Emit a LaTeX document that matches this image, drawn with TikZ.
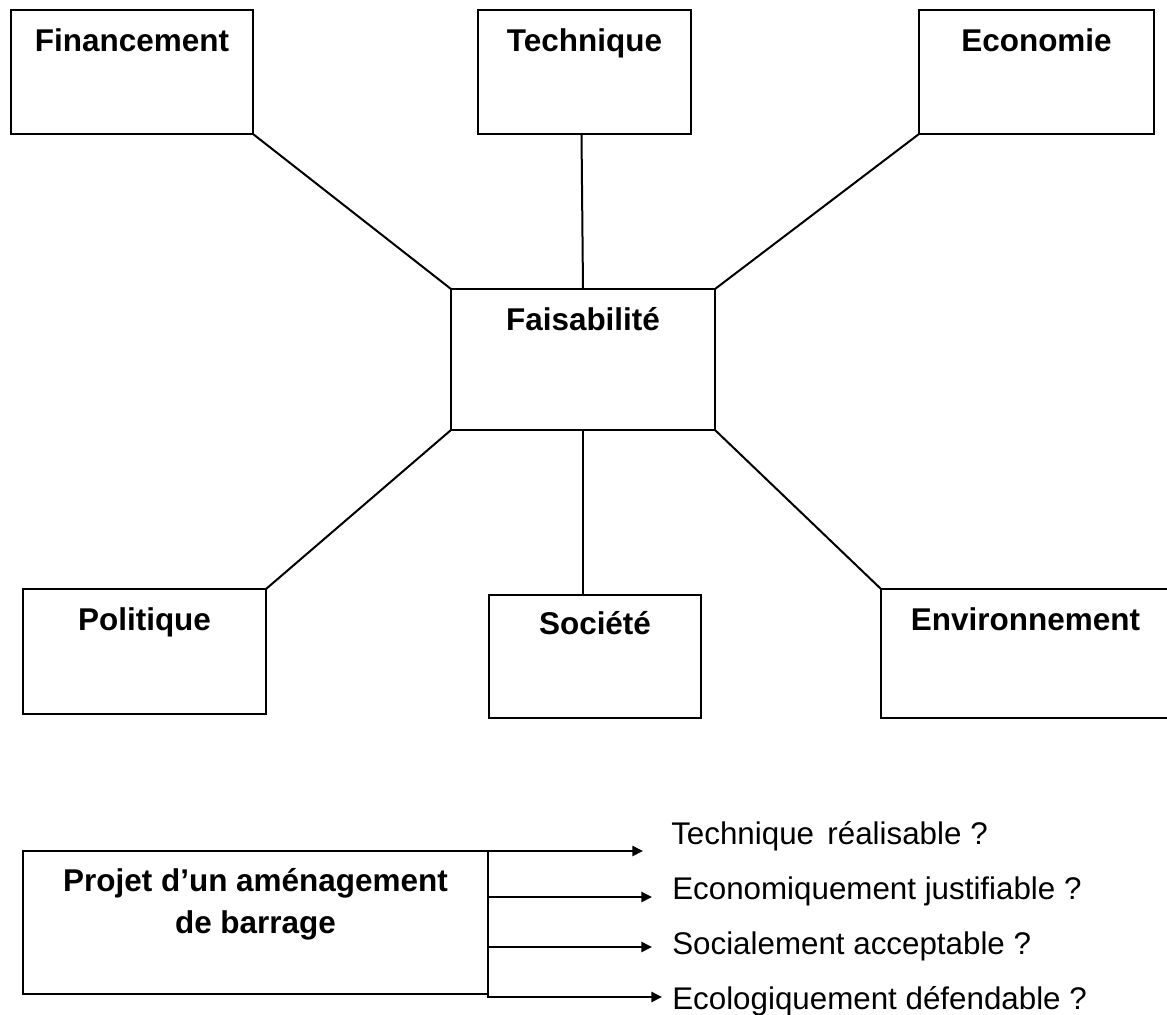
\documentclass[tikz,border=0pt]{standalone}
\usepackage{fontspec}
\setmainfont{Liberation Sans}
\usetikzlibrary{arrows.meta}
\begin{document}
\begin{tikzpicture}[x=0.75pt,y=-0.75pt,
  box/.style={draw=black, line width=1.9pt, inner sep=0pt, outer sep=0pt, fill=white},
  boldtext/.style={inner sep=0pt, font=\fontsize{23.6}{31.5}\selectfont\bfseries},
  boxlabel/.style={boldtext, anchor=base, yshift=-41*0.75pt},
  link/.style={line width=1.5pt, draw=black},
  trunk/.style={line width=1.9pt, draw=black},
  arr/.style={line width=1.9pt, draw=black, -{Triangle[length=8pt,width=7.5pt]}},
  question/.style={anchor=base west, inner sep=0pt,
    font=\fontsize{23.5}{30}\selectfont}]
\useasboundingbox (0,0) rectangle (1167,1014);
\fill[white] (0,0) rectangle (1167,1014);

% top row
\node[box, minimum width=242*0.75pt, minimum height=124*0.75pt,
  label={[boxlabel]north:Financement}] (fin) at (132,72) {};
\node[box, minimum width=213*0.75pt, minimum height=124*0.75pt,
  label={[boxlabel]north:Technique}] (tec) at (584.5,72) {};
\node[box, minimum width=235*0.75pt, minimum height=124*0.75pt,
  label={[boxlabel]north:Economie}] (eco) at (1036.5,72) {};

% centre
\node[box, minimum width=264*0.75pt, minimum height=141*0.75pt,
  label={[boxlabel]north:Faisabilité}] (fai) at (583,359.5) {};

% bottom row
\node[box, minimum width=243*0.75pt, minimum height=125*0.75pt,
  label={[boxlabel]north:Politique}] (pol) at (144.5,651.5) {};
\node[box, minimum width=212*0.75pt, minimum height=123*0.75pt,
  label={[boxlabel, yshift=1.5pt]north:Société}] (soc) at (595,656.5) {};
\node[box, minimum width=289*0.75pt, minimum height=129*0.75pt,
  label={[boxlabel]north:Environnement}] (env) at (1025.5,653.5) {};

% connectors
\draw[link] (fin.south east) -- (fai.north west);
\draw[link] ([xshift=-3*0.75pt]tec.south) -- (fai.north);
\draw[link] (eco.south west) -- (fai.north east);
\draw[link] (fai.south west) -- (pol.north east);
\draw[link] (fai.south) -- (fai.south |- soc.north);
\draw[link] (fai.south east) -- (env.north west);

% project box
\node[box, minimum width=465*0.75pt, minimum height=143*0.75pt,
  label={[boldtext, anchor=north, yshift=-17*0.75pt, align=center]north:Projet d’un aménagement\\de barrage}] (pro) at (255.5,922.5) {};

% questions
\node[question] (q1) at (671,844) {Technique\hspace{0.15em} réalisable ?};
\node[question] (q2) at (672,899) {Economiquement justifiable ?};
\node[question] (q3) at (672,954) {Socialement acceptable ?};
\node[question] (q4) at (672,1009) {Ecologiquement défendable ?};

\coordinate (e1) at (643,851);
\coordinate (e2) at (652,897);
\coordinate (e3) at (652,947);
\coordinate (e4) at (662,997);

\draw[trunk] (pro.north east) -- (pro.north east |- e4);
\draw[arr] ([xshift=-10*0.75pt]pro.north east) -- (e1);
\draw[arr] (pro.north east |- e2) -- (e2);
\draw[arr] (pro.north east |- e3) -- (e3);
\draw[arr] ([xshift=-0.95pt]pro.north east |- e4) -- (e4);
\end{tikzpicture}
\end{document}
